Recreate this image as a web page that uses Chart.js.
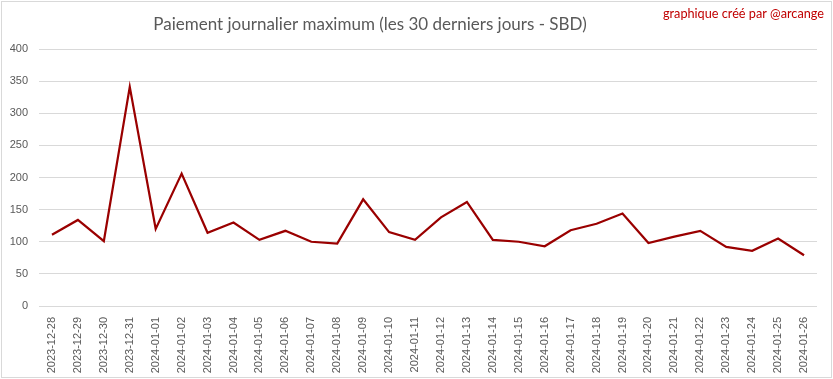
<!DOCTYPE html>
<html>
<head>
<meta charset="utf-8">
<script src="https://cdn.jsdelivr.net/npm/chart.js@4.4.1/dist/chart.umd.min.js"></script>
<style>
  html, body { margin: 0; padding: 0; background: #fff; }
  #wrap { width: 833px; height: 379px; position: relative; }
</style>
</head>
<body>
<div id="wrap"><canvas id="c" width="833" height="379"></canvas></div>
<script>
const titleText = "Paiement journalier maximum (les 30 derniers jours - SBD)";
const creditText = "graphique créé par @arcange";
const dates = [
  "2023-12-28","2023-12-29","2023-12-30","2023-12-31","2024-01-01","2024-01-02",
  "2024-01-03","2024-01-04","2024-01-05","2024-01-06","2024-01-07","2024-01-08",
  "2024-01-09","2024-01-10","2024-01-11","2024-01-12","2024-01-13","2024-01-14",
  "2024-01-15","2024-01-16","2024-01-17","2024-01-18","2024-01-19","2024-01-20",
  "2024-01-21","2024-01-22","2024-01-23","2024-01-24","2024-01-25","2024-01-26"
];
const maxPayout = [
  111, 134, 101, 341, 120, 206,
  114, 130, 103, 117, 100, 97,
  166, 115, 103, 138, 162, 103,
  100, 93, 118, 128, 144, 98,
  108, 117, 92, 86, 105, 79
];
const yMin = 0, yMax = 400, yStep = 50;

const decor = {
  id: 'decor',
  beforeDraw(chart) {
    const ctx = chart.ctx;
    ctx.save();
    ctx.fillStyle = '#ffffff';
    ctx.fillRect(0, 0, chart.width, chart.height);
    ctx.strokeStyle = '#d9d9d9';
    ctx.lineWidth = 1;
    ctx.strokeRect(1.5, 1.5, 830, 376);
    ctx.restore();
  },
  afterDraw(chart) {
    const ctx = chart.ctx;
    ctx.save();
    ctx.textBaseline = 'alphabetic';
    ctx.fillStyle = '#595959';
    ctx.font = '17px Lato, "Liberation Sans", sans-serif';
    ctx.textAlign = 'center';
    ctx.fillText(titleText, 370, 30);
    ctx.fillStyle = '#c00000';
    ctx.font = '12.7px Lato, "Liberation Sans", sans-serif';
    ctx.textAlign = 'right';
    ctx.fillText(creditText, 824, 18);
    ctx.restore();
  }
};

new Chart(document.getElementById('c'), {
  type: 'line',
  data: {
    labels: dates,
    datasets: [{
      data: maxPayout,
      borderColor: '#9a0000',
      backgroundColor: '#9a0000',
      borderWidth: 2.25,
      pointRadius: 0,
      tension: 0,
      fill: false
    }]
  },
  options: {
    responsive: false,
    animation: false,
    devicePixelRatio: 1,
    layout: { padding: { top: 49, right: 16, bottom: 0, left: 0 } },
    plugins: { legend: { display: false }, title: { display: false }, tooltip: { enabled: false } },
    scales: {
      x: {
        offset: true,
        grid: { display: false, drawTicks: false },
        border: { display: false },
        ticks: {
          autoSkip: false,
          maxRotation: 90,
          minRotation: 90,
          padding: 11,
          color: '#595959',
          font: { family: '"Liberation Sans", sans-serif', size: 11 }
        },
        afterFit(s) { s.height = 73; }
      },
      y: {
        min: yMin, max: yMax,
        grid: { color: '#d9d9d9', lineWidth: 1, drawTicks: false },
        border: { display: false },
        ticks: {
          stepSize: yStep,
          padding: 11,
          color: '#595959',
          font: { family: '"Liberation Sans", sans-serif', size: 11 }
        },
        afterFit(s) { s.width = 39; }
      }
    }
  },
  plugins: [decor]
});
</script>
</body>
</html>
